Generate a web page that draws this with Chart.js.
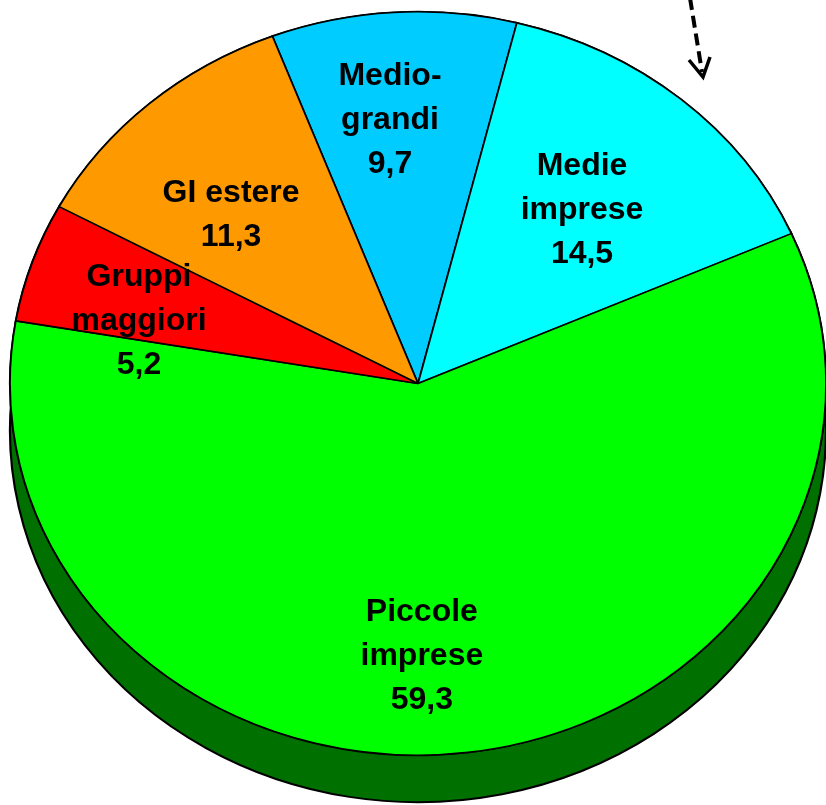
<!DOCTYPE html>
<html><head><meta charset="utf-8">
<script src="https://cdn.jsdelivr.net/npm/chart.js@4/dist/chart.umd.min.js"></script>
<style>html,body{margin:0;padding:0;background:#fff;overflow:hidden}canvas{display:block}</style>
</head><body>
<canvas id="c" width="826" height="805"></canvas>
<script>
// ---- data ----
const categories = [["Medio-","grandi"],["Medie","imprese"],["Piccole","imprese"],["Gruppi","maggiori"],["GI estere"]];
const values = [9.7, 14.5, 59.3, 5.2, 11.3];
const colors = ['#00CCFF','#00FFFF','#00FF00','#FF0000','#FF9900'];
const sideColors = ['#0088AA','#00AAAA','#007000','#990000','#AA6600'];
// label placement (style): angle shift in degrees, radius fraction
const labelAngleShift = [-2.1, 0.7, 6.3, -5.3, -4.1];
const labelRadius = [0.711, 0.615, 0.734, 0.704, 0.644];
const DEPTH = 47;

function geom(chart){
  const a = chart.chartArea;
  const cx = (a.left + a.right) / 2;
  const R = chart.getDatasetMeta(0).data[0].outerRadius;
  return {cx, sx: (a.right - a.left) / 2 / R};
}

const pie3d = {
  id: 'pie3d',
  beforeDatasetsDraw(chart){
    const ctx = chart.ctx;
    const g = geom(chart);
    ctx.save();
    ctx.translate(g.cx, 0); ctx.scale(g.sx, 1); ctx.translate(-g.cx, 0);
    const arcs = chart.getDatasetMeta(0).data;
    arcs.forEach((arc, i) => {
      const p = arc.getProps(['x','y','startAngle','endAngle','outerRadius']);
      ctx.beginPath();
      ctx.arc(p.x, p.y, p.outerRadius, p.startAngle, p.endAngle);
      ctx.arc(p.x, p.y + DEPTH, p.outerRadius, p.endAngle, p.startAngle, true);
      ctx.closePath();
      ctx.fillStyle = sideColors[i];
      ctx.fill();
      ctx.lineWidth = 2;
      ctx.strokeStyle = '#000';
      ctx.stroke();
    });
  },
  afterDatasetsDraw(chart){
    const ctx = chart.ctx;
    ctx.restore();
    const g = geom(chart);
    const arcs = chart.getDatasetMeta(0).data;
    ctx.save();
    ctx.font = 'bold 32px "Liberation Sans", Arial, sans-serif';
    ctx.textAlign = 'center';
    ctx.textBaseline = 'middle';
    ctx.fillStyle = '#000';
    const lh = 44;
    arcs.forEach((arc, i) => {
      const p = arc.getProps(['x','y','startAngle','endAngle','outerRadius']);
      const th = (p.startAngle + p.endAngle) / 2 + labelAngleShift[i] * Math.PI / 180;
      const r = p.outerRadius * labelRadius[i];
      const lx = p.x + r * Math.cos(th);
      const X = g.cx + (lx - g.cx) * g.sx;
      const Y = p.y + r * Math.sin(th);
      const lines = categories[i].concat([values[i].toFixed(1).replace('.', ',')]);
      const y0 = Y - (lines.length - 1) * lh / 2;
      lines.forEach((t, k) => ctx.fillText(t, X, y0 + k * lh));
    });
    ctx.restore();
  },
  afterDraw(chart){
    const ctx = chart.ctx;
    ctx.save();
    ctx.strokeStyle = '#000';
    ctx.lineWidth = 4;
    ctx.setLineDash([12, 6]);
    ctx.beginPath(); ctx.moveTo(690, -2); ctx.lineTo(702, 72); ctx.stroke();
    ctx.setLineDash([]);
    ctx.lineWidth = 3.5;
    ctx.beginPath(); ctx.moveTo(689, 60); ctx.lineTo(703, 77); ctx.lineTo(710, 57); ctx.stroke();
    ctx.restore();
  }
};

new Chart(document.getElementById('c'), {
  type: 'pie',
  data: {
    labels: categories.map(c => c.join(' ')),
    datasets: [{
      data: values,
      backgroundColor: colors,
      borderColor: '#000',
      borderWidth: 1.6,
      clip: false
    }]
  },
  options: {
    responsive: false,
    animation: false,
    devicePixelRatio: 1,
    rotation: -20.9,
    layout: {padding: {left: 10, right: 0, top: 11, bottom: 49}},
    plugins: {legend: {display: false}, tooltip: {enabled: false}},
    events: []
  },
  plugins: [pie3d]
});
</script>
</body></html>
